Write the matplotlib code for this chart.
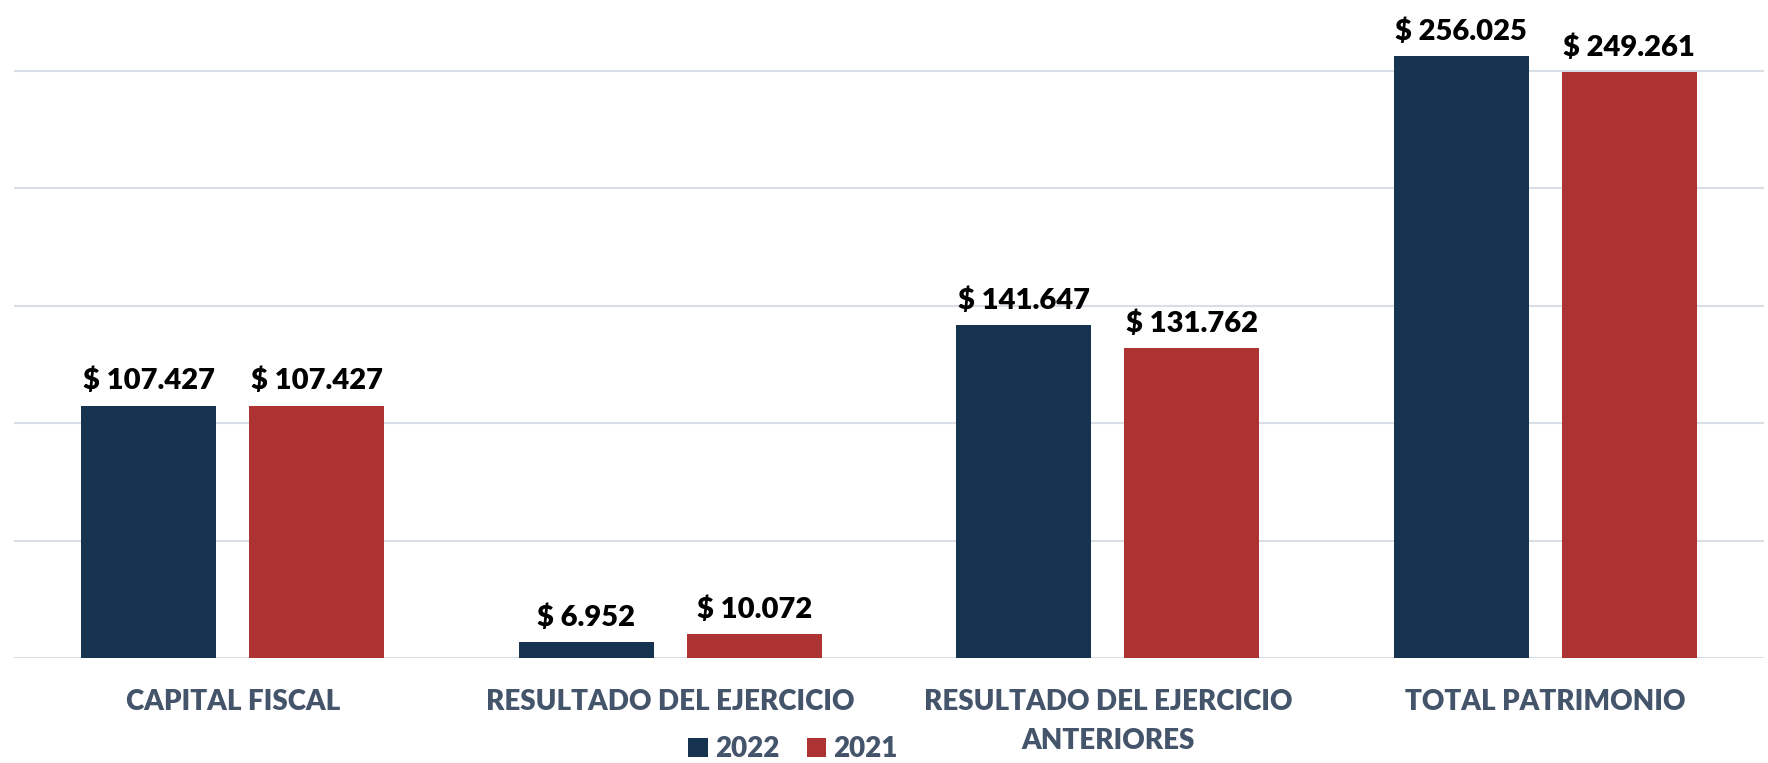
import numpy as np
import matplotlib.pyplot as plt

categories = ['CAPITAL FISCAL', 'RESULTADO DEL EJERCICIO',
              'RESULTADO DEL EJERCICIO\nANTERIORES', 'TOTAL PATRIMONIO']
values_2022 = [107427, 6952, 141647, 256025]
values_2021 = [107427, 10072, 131762, 249261]
series_names = ['2022', '2021']

blue = '#16344F'
red = '#AD3333'
txt = '#44546A'

plt.rcParams['font.family'] = ['Lato', 'DejaVu Sans']

fig = plt.figure(figsize=(17.68, 7.63), dpi=100)
ax = fig.add_axes([14 / 1768, 1 - 658 / 763, 1750 / 1768, 658 / 763])

x = np.arange(len(categories))
w = 0.309
off = 0.192
b1 = ax.bar(x - off, values_2022, w, color=blue, label=series_names[0], zorder=3)
b2 = ax.bar(x + off, values_2021, w, color=red, label=series_names[1], zorder=3)

fmt = lambda v: '$ ' + f'{v:,.0f}'.replace(',', '.')
for bars, vals in ((b1, values_2022), (b2, values_2021)):
    ax.bar_label(bars, labels=[fmt(v) for v in vals], padding=8,
                 fontsize=21, fontweight='heavy', color='black')

ax.set_xlim(-0.5, 3.5)
ax.set_ylim(0, 280000)
ax.set_yticks(np.arange(0, 250001, 50000))
ax.yaxis.grid(True, color='#D9DEE6', linewidth=1.5, zorder=0)
ax.tick_params(axis='y', left=False, labelleft=False)
ax.set_xticks(x)
ax.set_xticklabels(categories, fontsize=20, fontweight='heavy', color=txt, linespacing=1.65)
ax.tick_params(axis='x', length=0, pad=22)
for s in ax.spines.values():
    s.set_visible(False)

fig.legend(loc='center', bbox_to_anchor=(793 / 1768, 1 - 749 / 763), ncol=2,
           frameon=False, prop={'weight': 'heavy', 'size': 20},
           labelcolor=txt, handlelength=0.7, handleheight=0.7, handletextpad=0.25,
           columnspacing=1.0)

fig.savefig('out.png', dpi=100)
